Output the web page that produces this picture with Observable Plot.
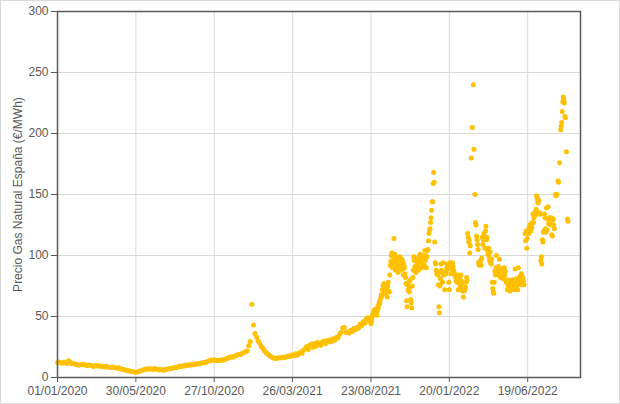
<!DOCTYPE html>
<html><head><meta charset="utf-8">
<script src="https://cdn.jsdelivr.net/npm/d3@7"></script>
<script src="https://cdn.jsdelivr.net/npm/@observablehq/plot@0.6"></script>
<style>
html,body{margin:0;padding:0;background:#fff;}
#chart svg{display:block;outline:1px solid #d9d9d9;outline-offset:-1px;}
</style></head><body><div id="chart"></div>
<script>
// Axis definitions
const xTickLabels = ["01/01/2020","30/05/2020","27/10/2020","26/03/2021","23/08/2021","20/01/2022","19/06/2022"];
const xDomainLabels = ["01/01/2020","28/09/2022"];
const yTicks = [0,50,100,150,200,250,300];
const yLabel = "Precio Gas Natural España (€/MWh)";

// Series 1: 01/01/2020 onwards, one reading every 3 days (€/MWh)
const start1 = "01/01/2020";
const step1 = 3;
const values1 = [
  12.0,12.8,12.1,11.6,12.6,12.0,11.5,13.8,12.4,11.3,
  11.5,10.8,11.0,10.3,10.0,10.6,10.9,10.4,10.2,9.6,
  10.3,9.8,9.7,9.1,9.6,9.9,9.2,9.7,9.2,8.9,
  8.6,9.2,8.7,8.5,8.1,8.7,8.2,7.9,7.5,7.9,
  7.4,7.0,6.6,6.2,5.9,5.6,5.3,5.0,4.8,4.5,
  4.3,4.6,5.2,5.6,5.9,6.4,6.8,7.1,6.7,7.2,
  7.0,6.6,7.3,7.0,6.5,6.2,6.6,6.3,6.0,6.5,
  6.8,7.2,7.6,7.3,8.0,8.5,8.2,8.8,9.5,9.1,
  9.7,9.4,10.2,9.8,10.5,10.1,10.8,10.4,11.2,10.9,
  11.5,11.2,11.9,12.3,12.0,12.8,13.4,13.9,14.3,14.1,
  14.5,14.0,13.7,14.2,14.0,14.6,14.3,15.0,15.6,16.0,
  16.5,17.0,16.6,17.4,18.0,18.6,19.1,18.8,19.8,20.5,
  21.2,22.0,26.0,29.5,60.0,43.0,36.0,33.0,30.0,28.0,
  25.5,24.0,22.0,20.5,19.5,18.2,17.3,16.6,16.0,15.6,
  15.8,16.2,15.9,16.4,16.8,16.3,17.0,17.6,17.2,18.0,
  18.6,17.8,19.4,18.2,19.8,20.6,19.9,22.5,23.5,25.5,
  23.0,26.5,27.5,24.8,28.0,25.6,28.6,27.2,26.4,29.0,
  30.0,27.6,30.4,29.2,31.0,29.6,31.8,30.5,33.0,32.6,
  35.2,37.0,40.5,41.0,36.8,37.6,36.4,38.6,37.5,40.2,
  39.2,41.0,40.4,43.6,42.6,45.6,44.5,48.2,49.0,46.0
];

// Series 2: 23/08/2021 onwards, daily readings (null = no visible point)
const start2 = "23/08/2021";
const step2 = 1;
const values2 = [
  44,46,49,51,52,53,55,54,56,55,
  53,51,54,58,57,60,62,61,64,66,
  68,67,72,75,70,77,74,69,76,72,
  73,66,75,78,71,70,84,92,95,100,
  102,90,97,93,114,95,101,88,92,98,
  93,90,86,96,92,99,88,94,91,97,
  89,95,84,92,90,85,82,77,63,58,
  76,72,78,70,74,80,64,61,57,75,
  82,88,99,96,91,87,86,92,97,95,
  90,88,99,93,101,91,96,90,94,100,
  97,99,92,104,96,100,90,99,104,105,
  112,118,121,122,127,131,137,144,144,159,
  168,160,111,94,93,88,85,87,84,76,
  58,53,75,81,93,88,86,78,94,84,
  85,72,87,86,85,90,93,92,89,78,
  72,94,90,85,93,89,94,91,88,86,
  85,83,82,79,80,78,84,72,79,77,
  82,74,84,79,76,71,73,66,71,74,
  72,74,78,82,80,118,115,111,113,102,
  108,null,180,null,205,null,240,187,null,150,
  127,125,116,113,109,105,94,92,95,93,
  96,92,98,115,109,113,118,115,106,120,
  124,113,115,104,101,106,99,96,103,94,
  93,97,78,73,70,69,78,87,84,90,
  100,88,87,85,91,84,97,86,82,89,
  83,85,88,81,82,90,84,87,80,78,
  79,72,76,80,74,78,71,75,77,73,
  80,76,78,72,79,74,89,77,81,75,
  78,72,90,80,77,83,79,76,85,80,
  77,82,79,76,null,118,112,120,106,114,
  118,121,118,123,125,122,120,126,123,127,
  134,127,131,133,133,136,138,149,147,144,
  143,145,134,135,134,96,99,93,113,111,
  119,120,134,131,122,119,139,121,130,140,
  126,131,128,130,125,131,117,116,129,130,
  125,122,null,150,149,null,150,null,161,160,
  null,176,null,203,206,209,218,226,230,228,
  225,214,213,null,185,null,130,128,null,null
];

const parse = d3.utcParse("%d/%m/%Y");
const fmt = d3.utcFormat("%d/%m/%Y");
function series(startLabel, step, values) {
  const s = parse(startLabel);
  return values.map((v, i) => ({date: d3.utcDay.offset(s, i * step), value: v}))
               .filter(d => d.value != null);
}
const data = [...series(start1, step1, values1), ...series(start2, step2, values2)];
const xTicks = xTickLabels.map(parse);
const xDomain = xDomainLabels.map(parse);

const chart = Plot.plot({
  width: 620,
  height: 404,
  marginLeft: 57,
  marginRight: 40,
  marginTop: 11,
  marginBottom: 27,
  style: {fontFamily: "'Liberation Sans', Arial, sans-serif", fontSize: "12px", color: "#595959", background: "#fff"},
  x: {type: "utc", domain: xDomain},
  y: {domain: [0, 300]},
  marks: [
    Plot.gridX(xTicks, {stroke: "#d9d9d9", strokeOpacity: 1}),
    Plot.gridY(yTicks, {stroke: "#d9d9d9", strokeOpacity: 1}),
    Plot.dot(data, {x: "date", y: "value", r: 2.5, fill: "#FFC000"}),
    Plot.axisX(xTicks, {tickFormat: fmt, tickSize: 5, tickPadding: 4, label: null, fontSize: 12}),
    Plot.axisY(yTicks, {tickSize: 6, tickPadding: 3, label: null, fontSize: 12}),
    Plot.frame({stroke: "#595959", strokeWidth: 1.5}),
    Plot.text([yLabel], {frameAnchor: "left", textAnchor: "middle", rotate: -90, dx: -39, fontSize: 12, fill: "#595959"})
  ]
});
document.getElementById("chart").appendChild(chart);
</script>
</body></html>
